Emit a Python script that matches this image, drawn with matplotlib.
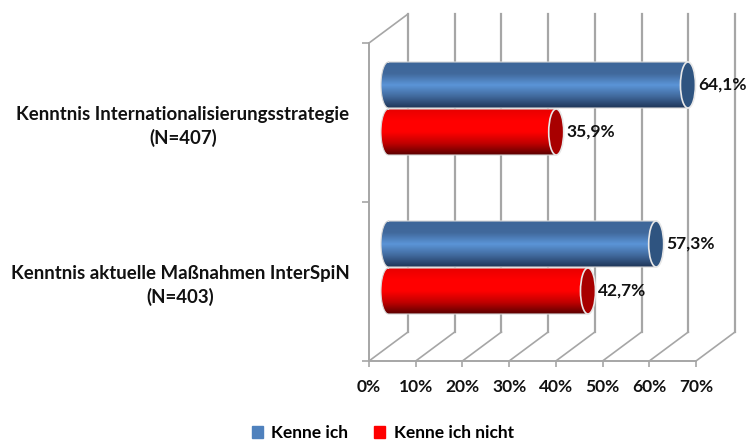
#!/usr/bin/env python3
import numpy as np
import matplotlib
matplotlib.use("Agg")
import matplotlib.pyplot as plt
from matplotlib.colors import LinearSegmentedColormap
from matplotlib.patches import Ellipse, Patch, PathPatch
from matplotlib.path import Path

plt.rcParams["font.family"] = ["Lato", "DejaVu Sans"]
plt.rcParams["font.weight"] = "bold"

# Daten
categories = ["Kenntnis aktuelle Maßnahmen InterSpiN\n(N=403)",
              "Kenntnis Internationalisierungsstrategie\n(N=407)"]
series_names = ["Kenne ich", "Kenne ich nicht"]
kenne_ich = [57.3, 64.1]
kenne_nicht = [42.7, 35.9]
x_ticks = [0, 10, 20, 30, 40, 50, 60, 70]

# Stil
GRAY = "#a6a6a6"
BLUE = "#4f81bd"
RED = "#ff0000"
blue_cmap = LinearSegmentedColormap.from_list(
    "b", ["#1f3558", "#41699c", "#5b95d8", "#41699c", "#3d6699"])
red_cmap = LinearSegmentedColormap.from_list(
    "r", ["#5a0000", "#c00000", "#ff0000", "#ff0000", "#e80000"])
BLUE_CAP = "#2f5480"
RED_CAP = "#a80000"

W, H = 752, 443
fig = plt.figure(figsize=(W / 100, H / 100), dpi=100)
# Vorderkante der 3D-Box in Pixeln
ax = fig.add_axes([369 / W, 1 - 361 / H, 327 / W, 318 / H])

px_x = 70 / 327   # Datenbreite pro Pixel
px_y = 2 / 318    # Datenhoehe pro Pixel
depth_x = 39 * px_x
depth_y = 29 * px_y

# Rueckwand und Boden
for t in x_ticks:
    ax.plot([t + depth_x] * 2, [depth_y, 2 + depth_y], color=GRAY, lw=1.6,
            clip_on=False, zorder=1)
    ax.plot([t, t + depth_x], [0, depth_y], color=GRAY, lw=1.2,
            clip_on=False, zorder=1)
ax.plot([0, depth_x], [2, 2 + depth_y], color=GRAY, lw=1.2, clip_on=False, zorder=1)


def cylinder(value, y_center, height, cmap, cap_color):
    """Liegender Zylinder mit Verlauf, Mitte in halber Boxtiefe."""
    x0 = depth_x / 2
    x1 = x0 + value
    y0 = y_center + depth_y / 2
    hw = 7.5 * px_x
    hh = height / 2
    a = np.linspace(np.pi / 2, 3 * np.pi / 2, 30)
    left = np.column_stack([x0 + hw * np.cos(a), y0 + hh * np.sin(a)])
    right = np.array([[x1, y0 - hh], [x1, y0 + hh]])
    poly = np.vstack([left, right, left[:1]])
    grad = np.linspace(0, 1, 128).reshape(-1, 1)
    im = ax.imshow(grad, cmap=cmap, origin="lower", aspect="auto", zorder=3,
                   extent=(x0 - hw, x1, y0 - hh, y0 + hh))
    im.set_clip_path(PathPatch(Path(poly), transform=ax.transData))
    ax.plot(poly[:, 0], poly[:, 1], color="#d9d9d9", lw=0.8, zorder=3,
            clip_on=False)
    ax.add_patch(Ellipse((x1, y0), 2 * hw, height, facecolor=cap_color,
                         edgecolor="#e8e8e8", lw=1.2, zorder=4, clip_on=False))
    label = f"{value:.1f}".replace(".", ",") + "%"
    ax.annotate(label, xy=(x1 + hw, y0), xytext=(2, 0), textcoords="offset points",
                ha="left", va="center", fontsize=12.5, fontweight="bold",
                color="#111111", zorder=5, annotation_clip=False)


bar_h = 46 * px_y
centers = [0.5, 1.5]
for i, yc in enumerate(centers):
    cylinder(kenne_ich[i], yc + bar_h / 2, bar_h, blue_cmap, BLUE_CAP)
    cylinder(kenne_nicht[i], yc - bar_h / 2 - px_y, bar_h, red_cmap, RED_CAP)

ax.set_xlim(0, 70)
ax.set_ylim(0, 2)
ax.set_xticks(x_ticks)
ax.set_xticklabels([f"{t}%" for t in x_ticks], fontsize=12.5, fontweight="bold",
                   color="#111111")
ax.set_yticks([0, 1, 2])
ax.set_yticklabels([])
ax.set_yticks(centers, categories, minor=True, fontsize=13.4, fontweight="bold",
              color="#111111", multialignment="center", linespacing=1.35)
ax.tick_params(axis="y", which="minor", length=0, pad=14)
ax.tick_params(axis="y", which="major", length=5, color=GRAY, width=1.2)
ax.tick_params(axis="x", length=4, color=GRAY, width=1.2, pad=9)
ax.patch.set_alpha(0)
for side in ["top", "right"]:
    ax.spines[side].set_visible(False)
for side in ["left", "bottom"]:
    ax.spines[side].set_color(GRAY)
    ax.spines[side].set_linewidth(1.4)

handles = [Patch(color=BLUE), Patch(color=RED)]
fig.legend(handles, series_names, ncol=2, loc="center", frameon=False,
           bbox_to_anchor=(383 / W, 1 - 433 / H), fontsize=12.5,
           handlelength=0.6, handleheight=0.7, handletextpad=0.5, columnspacing=1.5)

fig.savefig("out.png", dpi=100)
